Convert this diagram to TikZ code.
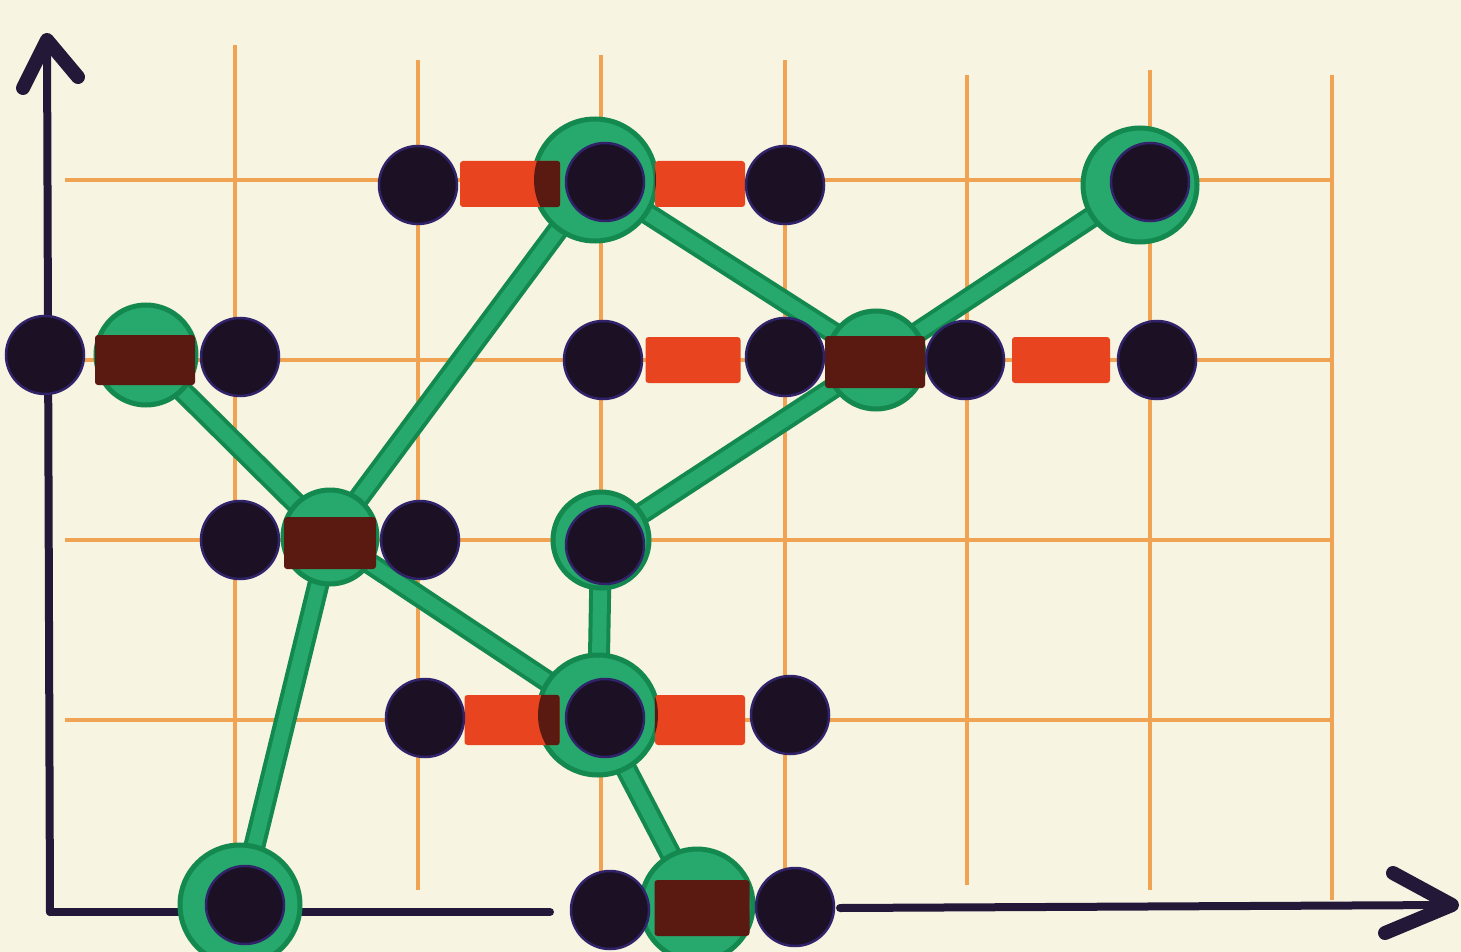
\documentclass[tikz,border=0pt]{standalone}
\definecolor{paper}{HTML}{F8F4E2}
\definecolor{gridc}{HTML}{EFA353}
\definecolor{axisc}{HTML}{231838}
\definecolor{dotc}{HTML}{1B1024}
\definecolor{dotedge}{HTML}{30236A}
\definecolor{greenc}{HTML}{27A86C}
\definecolor{greend}{HTML}{13884F}
\definecolor{greenl}{HTML}{3CBF82}
\definecolor{redc}{HTML}{E8441F}
\definecolor{brownc}{HTML}{5A1A12}
\tikzset{
 gridline/.style={gridc, line width=3.2pt},
 axisline/.style={axisc, line width=8pt, line cap=round},
 arrowarm/.style={axisc, line width=14pt, line cap=round, line join=round},
 dot/.style={circle, fill=dotc, draw=dotedge, line width=2.5pt, minimum size=78pt, inner sep=0pt},
 ring/.style={circle, fill=greenc, draw=greend, line width=5pt, inner sep=0pt},
 bondouter/.style={greend, line width=22pt},
 bondinner/.style={greenc, line width=14pt},
 redbar/.style={rectangle, fill=redc, minimum height=46pt, inner sep=0pt, rounded corners=3pt},
 brownbar/.style={redbar, fill=brownc},
}
\begin{document}
\begin{tikzpicture}[x=1pt,y=-1pt]
\useasboundingbox[fill=paper] (0,0) rectangle (1461,952);
% grid
\foreach \gx/\ya/\yb in {235/45/875, 418/60/890, 601/55/890, 785/60/890, 967/75/885, 1150/70/890, 1332/75/900}
  \draw[gridline] (\gx,\ya) -- (\gx,\yb);
\foreach \gy in {180,360,540,720}
  \draw[gridline] (65,\gy) -- (1330,\gy);
% axes
\coordinate (o) at (50,912);
\coordinate (ytip) at (47,40);
\coordinate (xa) at (550,912);
\coordinate (xb) at (840,908);
\coordinate (xtip) at (1452,905);
\draw[axisline] (o) -- (ytip);
\draw[arrowarm] (23,88) -- (ytip) -- (78,77);
\draw[axisline] (o) -- (xa);
\draw[axisline] (xb) -- (xtip);
\draw[arrowarm] (1393,873) -- (xtip) -- (1385,933);
% ring centres
\coordinate (g1) at (146,355);
\coordinate (g2) at (595,180);
\coordinate (g3) at (1140,185);
\coordinate (g4) at (876,360);
\coordinate (g5) at (330,537);
\coordinate (g6) at (601,540);
\coordinate (g7) at (598,715);
\coordinate (g8) at (240,905);
\coordinate (g9) at (697,905);
% bonds
\foreach \p/\q in {g1/g5, g5/g2, g5/g8, g5/g7, g2/g4, g4/g3, g4/g6, g6/g7, g7/g9}{
  \draw[bondouter] (\p) -- (\q);
}
\foreach \p/\q in {g1/g5, g5/g2, g5/g8, g5/g7, g2/g4, g4/g3, g4/g6, g6/g7, g7/g9}{
  \draw[bondinner] (\p) -- (\q);
}
% rings
\node[ring, minimum size=100pt] (G1) at (g1) {};
\node[ring, minimum size=122pt] (G2) at (g2) {};
\node[ring, minimum size=114pt] (G3) at (g3) {};
\node[ring, minimum size=98pt] (G4) at (g4) {};
\node[ring, minimum size=94pt] (G5) at (g5) {};
\node[ring, minimum size=96pt] (G6) at (g6) {};
\node[ring, minimum size=120pt] (G7) at (g7) {};
\node[ring, minimum size=120pt] (G8) at (g8) {};
\node[ring, minimum size=112pt] (G9) at (g9) {};
% bars
\node[redbar, minimum width=100pt] (r1) at (510,184) {};
\node[redbar, minimum width=90pt] (r2) at (700,184) {};
\node[brownbar, minimum width=100pt, minimum height=50pt] (k1) at (145,360) {};
\node[redbar, minimum width=95pt] (r3) at (693,360) {};
\node[brownbar, minimum width=100pt, minimum height=52pt] (k2) at (875,362) {};
\node[redbar, minimum width=98pt] (r4) at (1061,360) {};
\node[brownbar, minimum width=92pt, minimum height=52pt] (k3) at (330,543) {};
\node[redbar, minimum width=95pt, minimum height=50pt] (r5) at (512,720) {};
\node[redbar, minimum width=90pt, minimum height=50pt] (r6) at (700,720) {};
\node[brownbar, minimum width=95pt, minimum height=56pt] (k4) at (702,908) {};
\begin{scope}
\clip (g2) circle (61pt) (g7) circle (60pt);
\fill[brownc, rounded corners=3pt] (r1.south west) rectangle (r1.north east);
\fill[brownc, rounded corners=3pt] (r2.south west) rectangle (r2.north east);
\fill[brownc, rounded corners=3pt] (r5.south west) rectangle (r5.north east);
\fill[brownc, rounded corners=3pt] (r6.south west) rectangle (r6.north east);
\end{scope}
% atoms
\node[dot] (a1) at (418,185) {};
\node[dot] (a2) at (605,182) {};
\node[dot] (a3) at (785,185) {};
\node[dot] (a4) at (1150,182) {};
\node[dot] (b1) at (45,355) {};
\node[dot] (b2) at (240,357) {};
\node[dot] (b3) at (603,360) {};
\node[dot] (b4) at (785,357) {};
\node[dot] (b5) at (965,360) {};
\node[dot] (b6) at (1157,360) {};
\node[dot] (c1) at (240,540) {};
\node[dot] (c2) at (420,540) {};
\node[dot] (c3) at (605,545) {};
\node[dot] (d1) at (425,718) {};
\node[dot] (d2) at (605,718) {};
\node[dot] (d3) at (790,715) {};
\node[dot] (e1) at (245,905) {};
\node[dot] (e2) at (610,910) {};
\node[dot] (e3) at (795,907) {};
\end{tikzpicture}
\end{document}
